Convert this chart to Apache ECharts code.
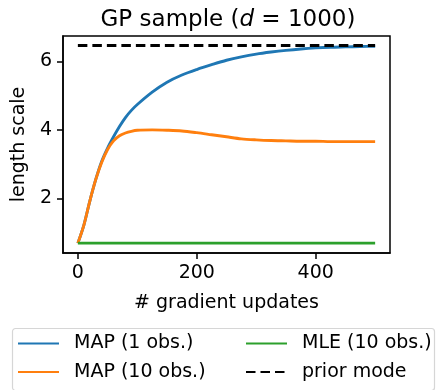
<!DOCTYPE html>
<html><head><meta charset="utf-8">
<script src="https://cdn.jsdelivr.net/npm/echarts@6/dist/echarts.min.js"></script>
<style>html,body{margin:0;padding:0;background:#fff}#c{width:436px;height:390px}</style>
</head><body><div id="c"></div>
<script>
const steps = [0,10,20,30,40,50,60,70,80,90,100,125,150,175,200,225,250,275,300,325,350,375,400,425,450,475,500];
const map1 = [0.7,1.22,1.92,2.55,3.08,3.47,3.80,4.10,4.36,4.57,4.74,5.10,5.39,5.60,5.76,5.90,6.03,6.13,6.21,6.27,6.32,6.36,6.39,6.41,6.42,6.43,6.44];
const map10 = [0.7,1.22,1.92,2.55,3.05,3.43,3.68,3.83,3.91,3.96,3.99,4.0,3.99,3.97,3.92,3.86,3.80,3.74,3.71,3.69,3.68,3.67,3.67,3.66,3.66,3.66,3.66];
const flatSteps = [0,500];
const mle10 = [0.7,0.7];
const prior = [6.46,6.46];
const xTicks = [0,200,400];
const yTicks = [2,4,6];
const names = ['MAP (1 obs.)','MAP (10 obs.)','MLE (10 obs.)','prior mode'];

const F = 'DejaVu Sans';
const pairs = (xs, ys) => xs.map((x,i)=>[x,ys[i]]);
const chart = echarts.init(document.getElementById('c'), null, {renderer:'canvas'});
const legendText = {fontFamily:F,fontSize:19,color:'#000',lineHeight:19,padding:[0,0,0,10]};
const legendBase = {orient:'vertical',top:334,padding:0,itemWidth:41,itemHeight:14,itemGap:9.4,
  itemStyle:{opacity:0},textStyle:legendText,selectedMode:false};
chart.setOption({
  animation:false,
  title:{text:'GP sample ({i|d} = 1000)',left:223,top:4,textAlign:'center',
    textStyle:{fontFamily:F,fontSize:23,fontWeight:'normal',color:'#000',
      rich:{i:{fontFamily:F,fontSize:23,fontStyle:'italic',color:'#000'}}}},
  grid:{left:63,top:36,width:327,height:217,show:true,borderColor:'#000',borderWidth:1.5,backgroundColor:'transparent'},
  xAxis:{type:'value',min:-25,max:525,
    name:'# gradient updates',nameLocation:'middle',nameGap:41,
    nameTextStyle:{fontFamily:F,fontSize:19,color:'#000'},
    axisLine:{show:true,onZero:false,lineStyle:{color:'#000',width:1.5}},splitLine:{show:false},
    axisTick:{show:true,inside:false,length:6,lineStyle:{color:'#000',width:1.5},customValues:xTicks},
    axisLabel:{fontFamily:F,fontSize:19,color:'#000',margin:11,customValues:xTicks}},
  yAxis:{type:'value',min:0.4125,max:6.7375,
    name:'length scale',nameLocation:'middle',nameGap:33,
    nameTextStyle:{fontFamily:F,fontSize:19,color:'#000'},
    axisLine:{show:true,onZero:false,lineStyle:{color:'#000',width:1.5}},splitLine:{show:false},
    axisTick:{show:true,inside:false,length:6,lineStyle:{color:'#000',width:1.5},customValues:yTicks},
    axisLabel:{fontFamily:F,fontSize:19,color:'#000',margin:11,customValues:yTicks}},
  legend:[
    Object.assign({left:17,data:[names[0],names[1]]},legendBase),
    Object.assign({left:245,data:[names[2],names[3]]},legendBase)
  ],
  graphic:[{type:'rect',left:10,top:326,shape:{width:422,height:62,r:3},style:{fill:'none',stroke:'#d6d6d6',lineWidth:1.2},z:-1}],
  series:[
    {name:names[0],type:'line',data:pairs(steps,map1),showSymbol:false,symbol:'none',smooth:0.3,lineStyle:{color:'#1f77b4',width:2.9},itemStyle:{color:'#1f77b4'}},
    {name:names[1],type:'line',data:pairs(steps,map10),showSymbol:false,symbol:'none',smooth:0.3,lineStyle:{color:'#ff7f0e',width:2.9},itemStyle:{color:'#ff7f0e'}},
    {name:names[2],type:'line',data:pairs(flatSteps,mle10),showSymbol:false,symbol:'none',lineStyle:{color:'#2ca02c',width:2.9},itemStyle:{color:'#2ca02c'}},
    {name:names[3],type:'line',data:pairs(flatSteps,prior),showSymbol:false,symbol:'none',lineStyle:{color:'#000',width:2.9,type:[9.5,5]},itemStyle:{color:'#000'}}
  ]
});
</script></body></html>
